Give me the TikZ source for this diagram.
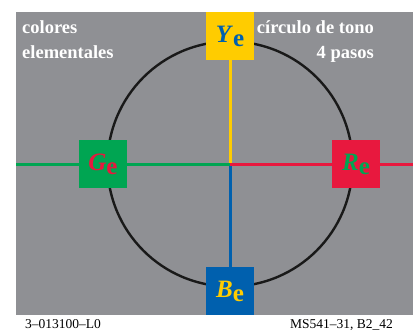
\documentclass[tikz,border=0pt]{standalone}
\usepackage{fontspec}
\setmainfont{Liberation Serif}
\definecolor{bggray}{RGB}{143,144,148}
\definecolor{yel}{RGB}{255,204,0}
\definecolor{grn}{RGB}{0,165,82}
\definecolor{red}{RGB}{232,24,62}
\definecolor{blu}{RGB}{0,96,174}
\tikzset{
  sq/.style={minimum size=48pt,inner sep=0pt,font=\fontsize{25}{25}\selectfont\bfseries},
  ax/.style={line width=3pt},
  hd/.style={text=white,inner sep=0pt,font=\fontsize{18.5}{20}\selectfont\bfseries},
  ft/.style={inner sep=0pt,font=\fontsize{13.5}{14}\selectfont},
}
\newcommand{\hue}[1]{\textit{#1}\raisebox{-4pt}{e}}

\begin{document}
\begin{tikzpicture}[x=1pt,y=-1pt]
\useasboundingbox (0,0) rectangle (413,332);
\fill[bggray] (16,12) rectangle (413,315);
\coordinate (c) at (230,164); \coordinate (w) at (16,164); \coordinate (e) at (413,164);
\draw[line width=2.4pt,black!90] (c) circle (122.5);
\node[sq,fill=yel,text=blu] (ye) at (230,36){\hue{Y}};
\node[sq,fill=grn,text=red] (ge) at (103,164){\hue{G}};
\node[sq,fill=red,text=grn] (re) at (356,164){\hue{R}};
\node[sq,fill=blu,text=yel] (be) at (230,291){\hue{B}};
\draw[ax,yel] (ye.south)--(c); \draw[ax,blu] (c)--(be.north);
\draw[ax,grn] (w)--(ge.west); \draw[ax,grn] (ge.east)--(c);
\draw[ax,red] (c)--(re.west); \draw[ax,red] (re.east)--(e);
\node[hd,anchor=base west] (t1) at (22,34){colores};
\node[hd,anchor=base west] (t2) at (22,58){elementales};
\node[hd,anchor=base east] (t3) at (374,34){círculo de tono};
\node[hd,anchor=base east] (t4) at (374,58){4 pasos};
\node[ft,anchor=base west] (f1) at (25,328){3--013100--L0};
\node[ft,anchor=base east] (f2) at (393,328){MS541--31, B2\_42};
\end{tikzpicture}
\end{document}
